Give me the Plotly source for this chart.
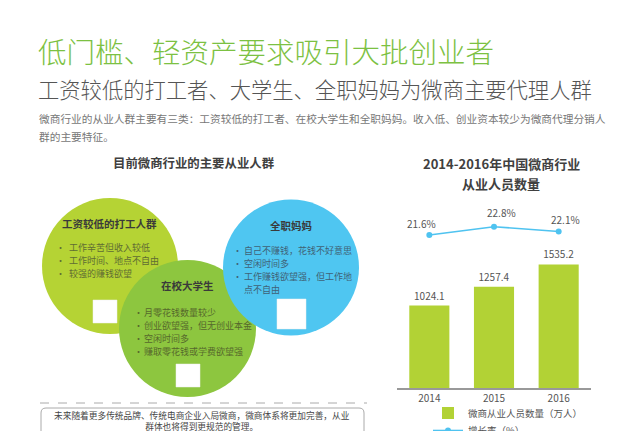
import plotly.graph_objects as go

# ---------------- data ----------------
years = ["2014", "2015", "2016"]
workers = [1024.1, 1257.4, 1535.2]          # 微商从业人员数量（万人）
growth = [21.6, 22.8, 22.1]                  # 增长率（%）
growth_labels = ["21.6%", "22.8%", "22.1%"]

title_main = "低门槛、轻资产要求吸引大批创业者"
title_sub = "工资较低的打工者、大学生、全职妈妈为微商主要代理人群"
para_lines = ["微商行业的从业人群主要有三类：工资较低的打工者、在校大学生和全职妈妈。收入低、创业资本较少为微商代理分销人",
              "群的主要特征。"]
section_title = "目前微商行业的主要从业人群"
chart_title = ["2014-2016年中国微商行业", "从业人员数量"]

groups = ["工资较低的打工人群", "在校大学生", "全职妈妈"]
group_points = [
    ["工作辛苦但收入较低", "工作时间、地点不自由", "较强的赚钱欲望"],
    ["月零花钱数量较少", "创业欲望强，但无创业本金", "空闲时间多", "赚取零花钱或学费欲望强"],
    ["自己不赚钱，花钱不好意思", "空闲时间多", "工作赚钱欲望强，但工作地", "点不自由"],
]
bottom_note = ["未来随着更多传统品牌、传统电商企业入局微商，微商体系将更加完善，从业",
               "群体也将得到更规范的管理。"]

W, H = 640, 431
FONT = "Noto Sans CJK SC"


def X(px):
    return px / W


def Y(py):
    return 1 - py / H


fig = go.Figure()

fig.add_trace(go.Bar(
    x=years, y=workers, name="微商从业人员数量（万人）",
    marker=dict(color="#b2d235", line=dict(width=0)),
    width=0.62,
    text=[f"{v:.1f}" for v in workers], textposition="outside",
    textfont=dict(size=10, color="#555555", family=FONT),
    cliponaxis=False, xaxis="x", yaxis="y", legend="legend",
))
fig.add_trace(go.Scatter(
    x=years, y=growth, name="增长率（%）", mode="lines+markers",
    line=dict(color="#4fc3f0", width=1.6),
    marker=dict(color="#4fc3f0", size=6),
    xaxis="x", yaxis="y2", cliponaxis=False, legend="legend2",
))

shapes = []
ann = []

# circles (left, middle, right) - middle over left, right over middle
circles = [(110, 266, 68, "#b5d334"), (187.5, 328.5, 68.5, "#8dc63f"), (291, 267.5, 68, "#4fc6f1")]
for cx, cy, r, col in circles:
    shapes.append(dict(type="circle", xref="paper", yref="paper",
                       x0=X(cx - r), x1=X(cx + r), y0=Y(cy + r), y1=Y(cy - r),
                       fillcolor=col, line=dict(width=0), layer="below"))

# image placeholders
for x0, y0, x1, y1 in [(93, 300, 117, 323), (176, 364, 200, 387), (277, 299, 306, 329)]:
    shapes.append(dict(type="rect", xref="paper", yref="paper",
                       x0=X(x0), x1=X(x1), y0=Y(y1), y1=Y(y0),
                       fillcolor="#ffffff", line=dict(color="#eeeeee", width=0.5), layer="below"))

# dashed separator and rounded note box
shapes.append(dict(type="line", xref="paper", yref="paper", x0=X(40), x1=X(367), y0=Y(403), y1=Y(403),
                   line=dict(color="#aaaaaa", width=1, dash="dash")))
bx0, by0, bx1, by1, rr = 41, 408, 364, 445, 5
path = (f"M {X(bx0)},{Y(by0 + rr)} Q {X(bx0)},{Y(by0)} {X(bx0 + rr)},{Y(by0)} "
        f"L {X(bx1 - rr)},{Y(by0)} Q {X(bx1)},{Y(by0)} {X(bx1)},{Y(by0 + rr)} "
        f"L {X(bx1)},{Y(by1)} L {X(bx0)},{Y(by1)} Z")
shapes.append(dict(type="path", xref="paper", yref="paper", path=path,
                   line=dict(color="#aaaaaa", width=1), fillcolor="rgba(0,0,0,0)"))

# headings
ann.append(dict(text=title_main, x=X(36), y=Y(51), xanchor="left", yanchor="middle",
                font=dict(size=28.5, color="#7cc142", family=FONT, weight=300)))
ann.append(dict(text=title_sub, x=X(36), y=Y(88), xanchor="left", yanchor="middle",
                font=dict(size=21.3, color="#555555", family=FONT, weight=300)))
for i, line in enumerate(para_lines):
    ann.append(dict(text=line, x=X(37), y=Y(119 + 17 * i), xanchor="left", yanchor="middle",
                    font=dict(size=10.7, color="#777777", family=FONT)))
ann.append(dict(text=section_title, x=X(194), y=Y(163), xanchor="center", yanchor="middle",
                font=dict(size=12.4, color="#404040", family=FONT, weight="bold")))
for i, t in enumerate(chart_title):
    ann.append(dict(text=t, x=X(501), y=Y(163 + 20 * i), xanchor="center", yanchor="middle",
                    font=dict(size=13, color="#404040", family=FONT, weight="bold")))

# circle texts
heads = [(109, 223), (187, 285), (291, 225)]
bullet_x = [(54, 67), (132, 142), (231, 242)]
first_y = [247, 312, 250]
txt_cols = ["#5f6c33", "#56682c", "#3f6276"]
for g in range(3):
    ann.append(dict(text=groups[g], x=X(heads[g][0]), y=Y(heads[g][1]), xanchor="center", yanchor="middle",
                    font=dict(size=10.5, color="#3a3a3a", family=FONT, weight="bold")))
    for j, t in enumerate(group_points[g]):
        yy = first_y[g] + 13.3 * j
        if not (g == 2 and j == 3):
            ann.append(dict(text="•", x=X(bullet_x[g][0]), y=Y(yy), xanchor="left", yanchor="middle",
                            font=dict(size=9, color=txt_cols[g], family=FONT)))
        ann.append(dict(text=t, x=X(bullet_x[g][1]), y=Y(yy), xanchor="left", yanchor="middle",
                        font=dict(size=9, color=txt_cols[g], family=FONT)))

# bottom note (one two-line text, centred)
ann.append(dict(text="<br>".join(bottom_note), x=X(202), y=Y(420.5), xanchor="center", yanchor="middle",
                align="center", font=dict(size=8.7, color="#444444", family=FONT)))

for a in ann:
    a.update(xref="paper", yref="paper", showarrow=False)

# growth labels (positioned through the chart's own axes)
xs = [-8, 7, 7]
for i in range(len(years)):
    ann.append(dict(text=growth_labels[i], x=i, y=growth[i], xref="x", yref="y2",
                    showarrow=False, xshift=xs[i], yshift=12 if i != 1 else 14,
                    font=dict(size=10, color="#555555", family=FONT)))

fig.update_layout(
    width=W, height=H, margin=dict(l=0, r=0, t=0, b=0, autoexpand=False),
    paper_bgcolor="white", plot_bgcolor="white",
    font=dict(family=FONT, color="#555555"),
    shapes=shapes, annotations=ann,
    xaxis=dict(domain=[X(397), X(591)], range=[-0.5, 2.5], type="category",
               showgrid=False, zeroline=False, showline=True, linecolor="#999999", linewidth=1.5,
               ticks="", tickfont=dict(size=10, color="#555555"), anchor="y", fixedrange=True,
               automargin=False),
    yaxis=dict(domain=[Y(388), Y(250)], range=[0, 138 / 0.0805], visible=False, fixedrange=True),
    yaxis2=dict(domain=[Y(250), Y(200)], range=[21.6 - 15 / 6.92, 21.6 + 35 / 6.92], visible=False,
                anchor="x", fixedrange=True),
    bargap=0.38,
    showlegend=True,
    legend=dict(x=X(428), y=Y(413), xanchor="left", yanchor="middle",
                font=dict(size=9.5, color="#555555", family=FONT), bgcolor="rgba(0,0,0,0)",
                itemwidth=30),
    legend2=dict(x=X(428), y=Y(430.5), xanchor="left", yanchor="middle",
                 font=dict(size=9.5, color="#555555", family=FONT), bgcolor="rgba(0,0,0,0)",
                 itemwidth=30),
)

fig.write_html("out.html", config={"displayModeBar": False},
               post_script="document.body.style.margin='0';document.body.style.overflow='hidden';")
